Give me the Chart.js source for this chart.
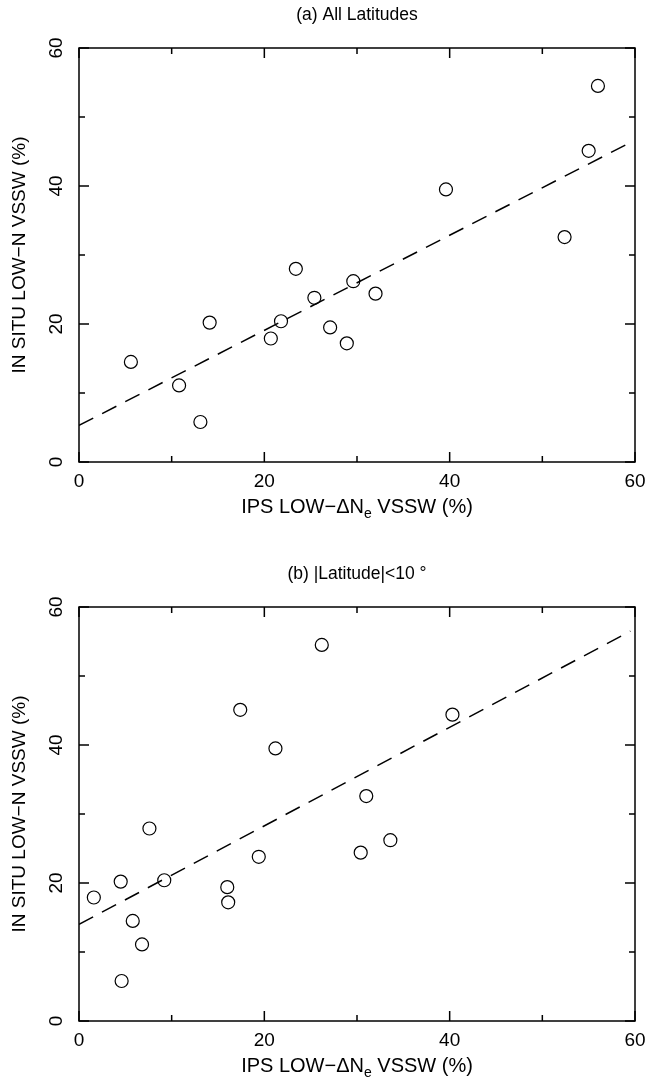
<!DOCTYPE html>
<html>
<head>
<meta charset="utf-8">
<script src="https://cdn.jsdelivr.net/npm/chart.js@4.4.1/dist/chart.umd.min.js"></script>
<style>
  html, body { margin: 0; padding: 0; background: #fff; }
  #wrap { position: relative; width: 650px; height: 1086px; }
  canvas { position: absolute; left: 0; }
</style>
</head>
<body>
<div id="wrap">
  <canvas id="panelA" width="650" height="559" style="top:0px"></canvas>
  <canvas id="panelB" width="650" height="527" style="top:559px"></canvas>
</div>
<script>
// Axis range and tick labels (both panels share them)
const axisMin = 0;
const axisMax = 60;
const labelStep = 20;
const minorStep = 10;

// (a) All latitudes: IPS low-dNe VSSW (%) vs in-situ low-N VSSW (%)
const ipsAll    = [5.6, 10.8, 13.1, 14.1, 20.7, 21.8, 23.4, 25.4, 27.1, 28.9, 29.6, 32.0, 39.6, 52.4, 55.0, 56.0];
const insituAll = [14.5, 11.1, 5.8, 20.2, 17.9, 20.4, 28.0, 23.8, 19.5, 17.2, 26.2, 24.4, 39.5, 32.6, 45.1, 54.5];
const fitAllX = [0, 59.5];
const fitAllY = [5.3, 46.3];

// (b) |Latitude| < 10 deg
const ipsEq    = [1.6, 4.5, 4.6, 5.8, 6.8, 7.6, 9.2, 16.0, 16.1, 17.4, 19.4, 21.2, 26.2, 30.4, 31.0, 33.6, 40.3];
const insituEq = [17.9, 20.2, 5.8, 14.5, 11.1, 27.9, 20.4, 19.4, 17.2, 45.1, 23.8, 39.5, 54.5, 24.4, 32.6, 26.2, 44.4];
const fitEqX = [0, 59.5];
const fitEqY = [14.0, 56.5];

const FONT = "'Liberation Sans', Arial, sans-serif";
const yTitle = 'IN SITU LOW\u2212N VSSW (%)';
const xTitleParts = ['IPS LOW\u2212\u0394N', 'e', ' VSSW (%)'];

// Closed frame with inward major/minor ticks, plus the x-axis title with its subscript
const frameTicks = {
  id: 'frameTicks',
  afterDatasetsDraw(chart) {
    const { ctx, chartArea: a, scales: { x, y } } = chart;
    ctx.save();
    ctx.strokeStyle = '#000';
    ctx.lineWidth = 1.5;
    ctx.strokeRect(a.left, a.top, a.right - a.left, a.bottom - a.top);
    ctx.beginPath();
    for (let v = axisMin; v <= axisMax; v += minorStep) {
      const len = v % labelStep === 0 ? 10 : 6;
      const px = x.getPixelForValue(v);
      const py = y.getPixelForValue(v);
      ctx.moveTo(px, a.bottom); ctx.lineTo(px, a.bottom - len);
      ctx.moveTo(px, a.top);    ctx.lineTo(px, a.top + len);
      ctx.moveTo(a.left, py);   ctx.lineTo(a.left + len, py);
      ctx.moveTo(a.right, py);  ctx.lineTo(a.right - len, py);
    }
    ctx.stroke();

    // x-axis title: "IPS LOW−ΔN" + subscript "e" + " VSSW (%)"
    const main = '20px ' + FONT;
    const sub = '14px ' + FONT;
    ctx.fillStyle = '#000';
    ctx.textBaseline = 'alphabetic';
    ctx.textAlign = 'left';
    ctx.font = main;
    const w0 = ctx.measureText(xTitleParts[0]).width;
    const w2 = ctx.measureText(xTitleParts[2]).width;
    ctx.font = sub;
    const w1 = ctx.measureText(xTitleParts[1]).width;
    const total = w0 + w1 + w2;
    let tx = (a.left + a.right) / 2 - total / 2;
    const base = a.bottom + 51;
    ctx.font = main;
    ctx.fillText(xTitleParts[0], tx, base);
    tx += w0;
    ctx.font = sub;
    ctx.fillText(xTitleParts[1], tx, base + 5);
    tx += w1;
    ctx.font = main;
    ctx.fillText(xTitleParts[2], tx, base);
    ctx.restore();
  }
};

function makePanel(canvasId, title, xs, ys, fitX, fitY, bottomPad) {
  const points = xs.map((v, i) => ({ x: v, y: ys[i] }));
  const fit = fitX.map((v, i) => ({ x: v, y: fitY[i] }));
  return new Chart(document.getElementById(canvasId), {
    type: 'scatter',
    data: {
      datasets: [
        {
          data: points,
          pointStyle: 'circle',
          pointRadius: 6.5,
          pointHoverRadius: 6.5,
          pointBorderWidth: 1.2,
          pointBorderColor: '#000',
          pointBackgroundColor: 'rgba(0,0,0,0)'
        },
        {
          type: 'line',
          data: fit,
          borderColor: '#000',
          borderWidth: 1.5,
          borderDash: [16, 10],
          pointRadius: 0,
          fill: false,
          tension: 0
        }
      ]
    },
    options: {
      responsive: false,
      animation: false,
      devicePixelRatio: 1,
      layout: { padding: { left: 0, right: 15, top: 0, bottom: bottomPad } },
      plugins: {
        legend: { display: false },
        tooltip: { enabled: false },
        title: {
          display: true,
          fullSize: false,
          text: title,
          color: '#000',
          font: { family: FONT, size: 17.5, weight: 'normal', lineHeight: 1.2 },
          padding: { top: 4.5, bottom: 22.5 }
        }
      },
      scales: {
        x: {
          type: 'linear',
          min: axisMin,
          max: axisMax,
          grid: { display: false, drawTicks: true, tickLength: 6 },
          border: { display: false },
          ticks: {
            stepSize: labelStep,
            padding: 2,
            color: '#000',
            maxRotation: 0,
            font: { family: FONT, size: 19, lineHeight: 1.2 }
          },
          afterFit(scale) { scale.height = 40; }
        },
        y: {
          type: 'linear',
          min: axisMin,
          max: axisMax,
          grid: { display: false, drawTicks: false },
          border: { display: false },
          ticks: {
            stepSize: labelStep,
            padding: 12,
            color: '#000',
            minRotation: 90,
            maxRotation: 90,
            crossAlign: 'center',
            font: { family: FONT, size: 19, lineHeight: 1.2 }
          },
          title: {
            display: true,
            text: yTitle,
            color: '#000',
            font: { family: FONT, size: 19, lineHeight: 1.2 },
            padding: { top: 8.6, bottom: 0 }
          },
          afterFit(scale) { scale.width = 79; }
        }
      }
    },
    plugins: [frameTicks]
  });
}

makePanel('panelA', '(a) All Latitudes', ipsAll, insituAll, fitAllX, fitAllY, 559 - 462 - 40);
makePanel('panelB', '(b) |Latitude|<10 \u00B0', ipsEq, insituEq, fitEqX, fitEqY, 527 - 462 - 40);
</script>
</body>
</html>
